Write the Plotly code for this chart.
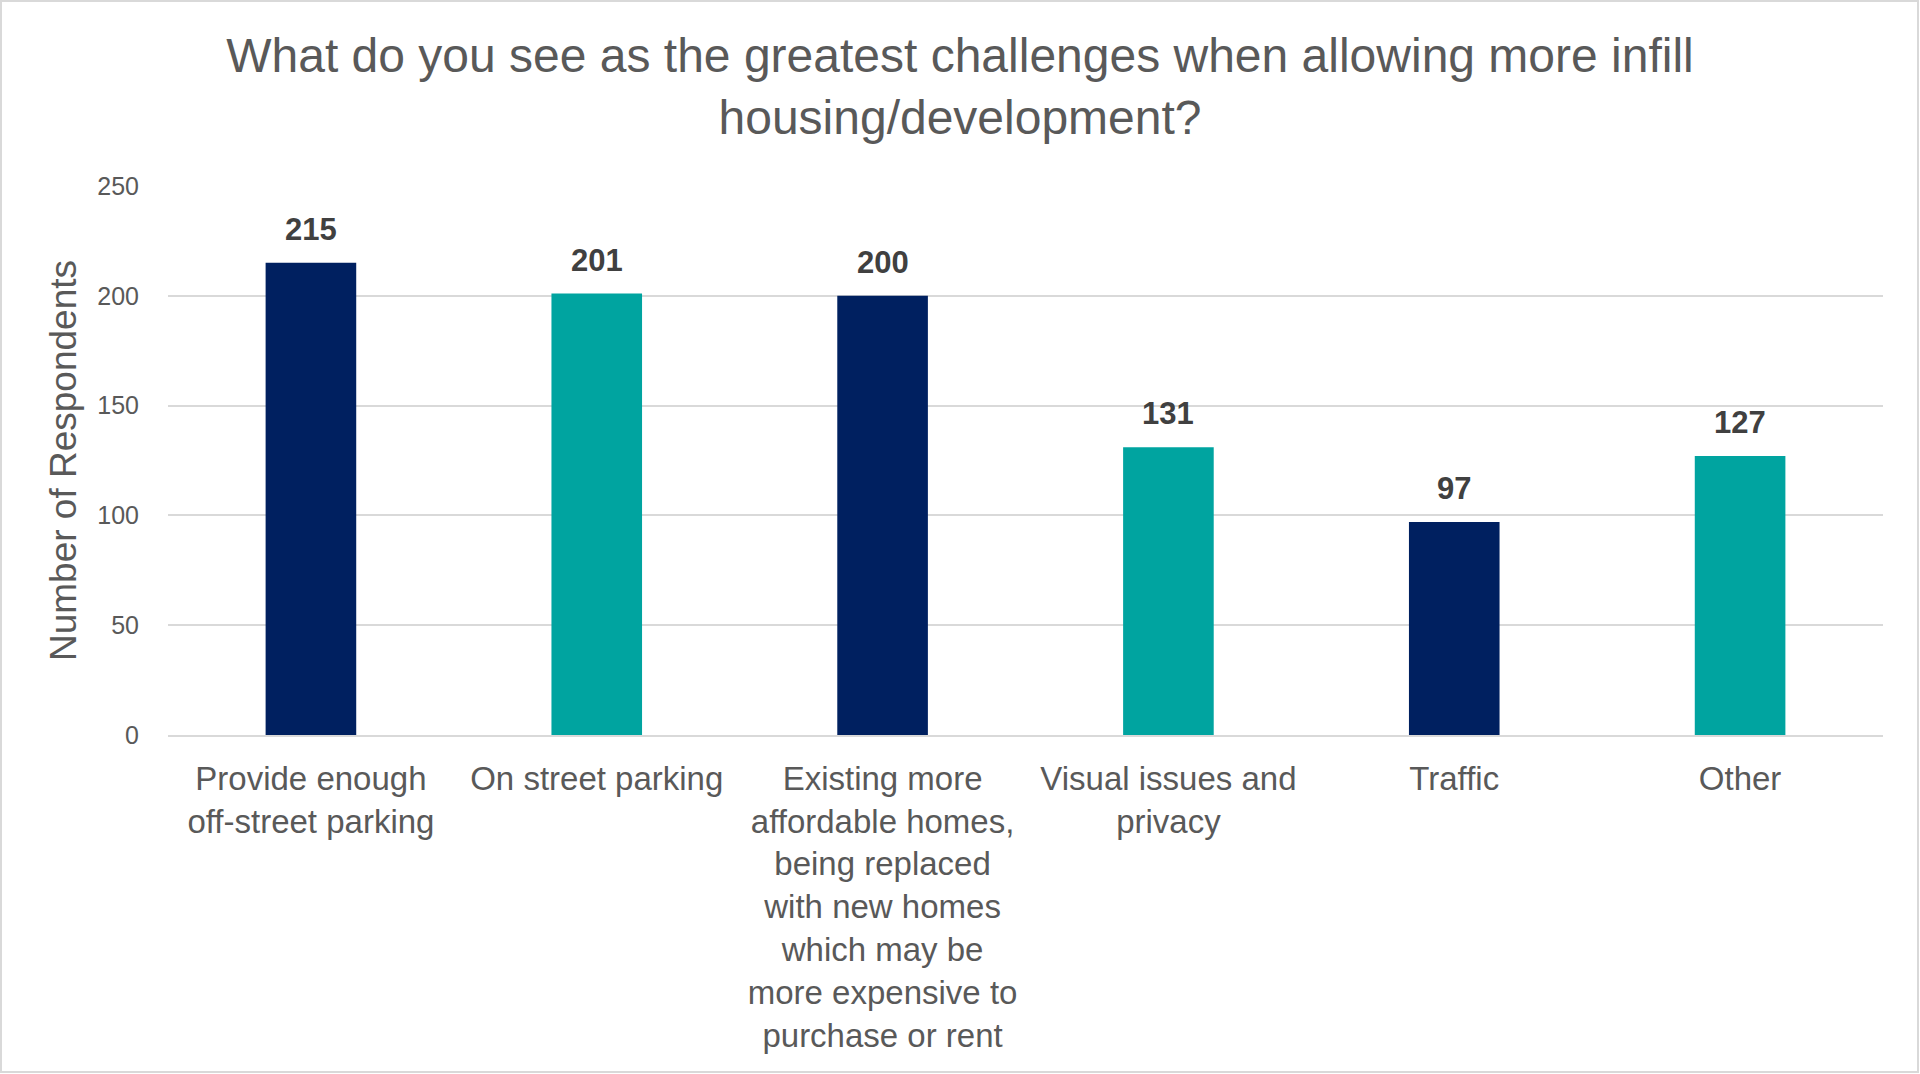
import plotly.graph_objects as go

# ---- data ----
categories = [
    "Provide enough<br>off-street parking",
    "On street parking",
    "Existing more<br>affordable homes,<br>being replaced<br>with new homes<br>which may be<br>more expensive to<br>purchase or rent",
    "Visual issues and<br>privacy",
    "Traffic",
    "Other",
]
values = [215, 201, 200, 131, 97, 127]
bar_colors = ["#002060", "#00A4A0", "#002060", "#00A4A0", "#002060", "#00A4A0"]
y_ticks = [0, 50, 100, 150, 200, 250]

title_text = ("What do you see as the greatest challenges when allowing more infill"
              "<br>housing/development?")
y_title = "Number of Respondents"

# ---- layout geometry ----
W, H = 1920, 1074
L, R, T, B = 168, 37, 186, 339
PW, PH = W - L - R, H - T - B

def px_x(px):
    return (px - L) / PW

def px_y(py):
    return (H - B - py) / PH

FONT = "Liberation Sans, Arial, sans-serif"
GRAY = "#595959"

fig = go.Figure(
    go.Bar(
        x=categories,
        y=values,
        marker=dict(color=bar_colors, line=dict(width=0)),
        hoverinfo="x+y",
    )
)

annotations = [
    dict(
        x=c, y=v, xref="x", yref="y", text=f"<b>{v}</b>", showarrow=False,
        yanchor="bottom", yshift=14,
        font=dict(family=FONT, size=31, color="#404040"),
    )
    for c, v in zip(categories, values)
]

fig.update_layout(
    width=W, height=H,
    margin=dict(l=L, r=R, t=T, b=B, pad=0),
    paper_bgcolor="white", plot_bgcolor="white",
    bargap=0.683,
    showlegend=False,
    title=dict(
        text=title_text, x=0.5, xref="container", xanchor="center",
        y=1 - 72 / H, yref="container", yanchor="top",
        font=dict(family=FONT, size=48, color=GRAY),
    ),
    annotations=annotations,
    shapes=[
        dict(type="rect", xref="paper", yref="paper",
             x0=px_x(1), x1=px_x(1918), y0=px_y(1072), y1=px_y(1),
             line=dict(color="#D9D9D9", width=2), fillcolor="rgba(0,0,0,0)", layer="above")
    ],
)

fig.update_yaxes(
    range=[0, 250], tickvals=y_ticks, ticktext=[str(t) for t in y_ticks],
    showgrid=True, gridcolor="#D9D9D9", gridwidth=2, zeroline=False,
    showline=False, ticks="", ticklabelstandoff=28,
    tickfont=dict(family=FONT, size=25, color=GRAY),
    title=dict(text=y_title, standoff=9, font=dict(family=FONT, size=37, color=GRAY)),
)
fig.update_xaxes(
    showgrid=False, showline=True, linecolor="#D9D9D9", linewidth=2,
    ticks="", tickangle=0, ticklabelstandoff=13,
    tickfont=dict(family=FONT, size=33, color=GRAY),
)

fig.write_html(
    "out.html",
    config={"displayModeBar": False},
    post_script="document.body.style.margin='0';document.body.style.overflow='hidden';",
)
